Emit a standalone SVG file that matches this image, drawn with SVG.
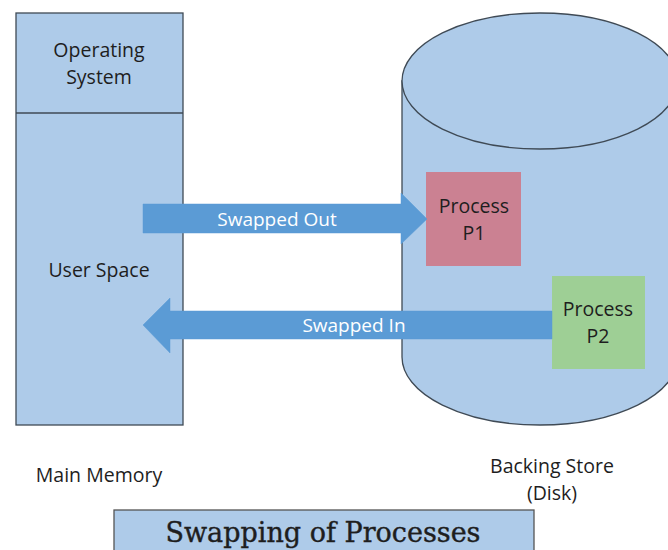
<svg xmlns="http://www.w3.org/2000/svg" width="668" height="550" viewBox="0 0 668 550">
<style>
.shape{fill:#aecbe9;stroke:#3f4a55;stroke-width:1.3}
.lbl{font-family:"Open Sans","Liberation Sans",sans-serif;font-size:19.5px;fill:#1e1e1e;text-anchor:middle}
.arrowtxt{font-family:"Open Sans","Liberation Sans",sans-serif;font-size:19px;fill:#ffffff;text-anchor:middle}
.arrow{fill:#5b9bd5;stroke:#5b9bd5;stroke-width:0.5}
</style>
<rect width="668" height="550" fill="#ffffff"/>
<g id="main-memory">
<rect class="shape" x="16" y="13" width="167" height="412"/>
<line x1="16" y1="113" x2="183" y2="113" stroke="#3f4a55" stroke-width="1.3"/>
<text class="lbl" x="99" y="57">Operating</text>
<text class="lbl" x="99" y="84">System</text>
<text class="lbl" x="99" y="277">User Space</text>
<text class="lbl" x="99" y="482">Main Memory</text>
</g>
<g id="backing-store">
<path class="shape" d="M402,81 L402,357 A138,68 0 0 0 678,357 L678,81 Z"/>
<ellipse class="shape" cx="540" cy="81" rx="138" ry="68"/>
<text class="lbl" x="552" y="473">Backing Store</text>
<text class="lbl" x="552" y="500">(Disk)</text>
</g>
<g id="process-p1">
<rect x="426" y="172" width="95" height="94" fill="#cb8192"/>
<text class="lbl" x="474" y="213">Process</text>
<text class="lbl" x="474" y="240">P1</text>
</g>
<g id="process-p2">
<rect x="552" y="276" width="93" height="93" fill="#9ecf95"/>
<text class="lbl" x="598" y="316">Process</text>
<text class="lbl" x="598" y="343">P2</text>
</g>
<g id="connectors">
<g id="swapped-out">
<path class="arrow" d="M143,204 L401,204 L401,193 L427,219 L401,244 L401,233 L143,233 Z"/>
<text class="arrowtxt" x="277" y="226">Swapped Out</text>
</g>
<g id="swapped-in">
<path class="arrow" d="M552,311 L170,311 L170,298 L143,325 L170,353 L170,339 L552,339 Z"/>
<text class="arrowtxt" x="354" y="332">Swapped In</text>
</g>
</g>
<g id="title">
<rect x="114" y="510" width="420" height="50" fill="#aecbe9" stroke="#555" stroke-width="1.3"/>
<text x="323" y="542" font-family="'DejaVu Serif','Liberation Serif',serif" font-size="27" fill="#1e1e1e" text-anchor="middle" stroke="#1e1e1e" stroke-width="0.4">Swapping of Processes</text>
</g>
</svg>
